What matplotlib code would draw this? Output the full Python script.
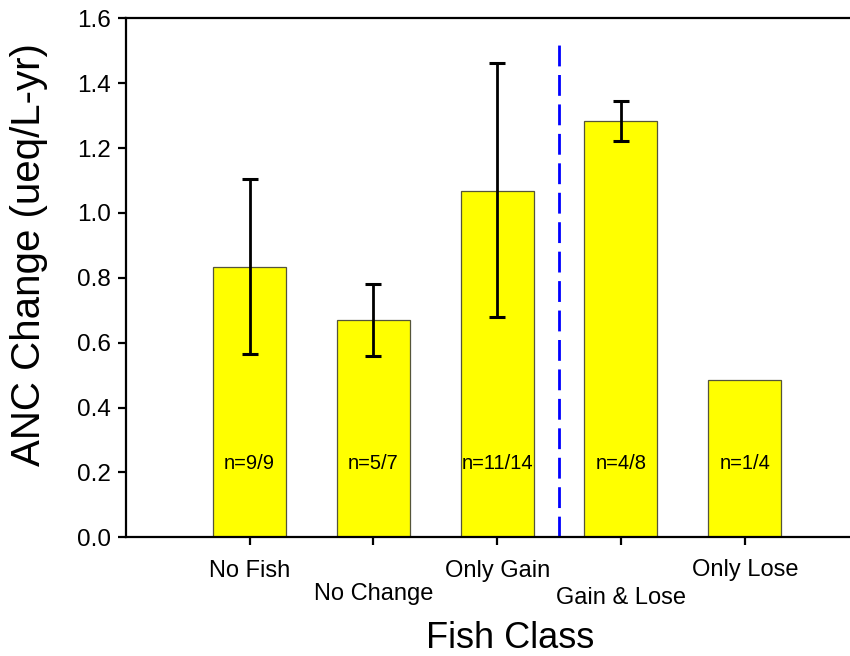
import numpy as np
import matplotlib.pyplot as plt

plt.rcParams['font.family'] = ['Liberation Sans', 'DejaVu Sans']

classes = ['No Fish', 'No Change', 'Only Gain', 'Gain & Lose', 'Only Lose']
anc_change = [0.834, 0.669, 1.069, 1.283, 0.486]
err_low = [0.564, 0.559, 0.680, 1.223, np.nan]
err_high = [1.105, 0.780, 1.462, 1.344, np.nan]
n_labels = ['n=9/9', 'n=5/7', 'n=11/14', 'n=4/8', 'n=1/4']
divider_top = 1.534

x = np.arange(1, len(classes) + 1)
yerr = [np.array(anc_change) - np.array(err_low),
        np.array(err_high) - np.array(anc_change)]

fig = plt.figure(figsize=(8.5, 6.56), dpi=100)
ax = fig.add_axes([0.148, 0.181, 0.852, 0.791])

ax.bar(x, anc_change, width=0.59, color='#ffff00', edgecolor='#55553a', linewidth=0.9, zorder=2)
ax.errorbar(x, anc_change, yerr=yerr, fmt='none', ecolor='black', elinewidth=2,
            capsize=5.5, capthick=2.2, zorder=3)

# divider between single-direction and mixed classes
ax.plot([3.5, 3.5], [0, divider_top], color='#0000ff', linewidth=2,
        dashes=(7.5, 3.1), zorder=1)

for xi, lab in zip(x, n_labels):
    ax.text(xi, 0.228, lab, ha='center', va='center', fontsize=14.5, zorder=4)

ax.set_xlim(0, 5.85)
ax.set_ylim(0, 1.6)
ax.set_yticks(np.arange(0, 1.61, 0.2))
ax.set_yticklabels([f'{v:.1f}' for v in np.arange(0, 1.61, 0.2)], fontsize=17.5)
ax.set_xticks(x)
ax.set_xticklabels([])

# staggered category labels
offsets = [-0.044, -0.088, -0.044, -0.096, -0.041]
for xi, lab, off in zip(x, classes, offsets):
    ax.text(xi, off, lab, transform=ax.get_xaxis_transform(), ha='center', va='top',
            fontsize=17)

ax.spines['right'].set_visible(False)
for s in ['left', 'top', 'bottom']:
    ax.spines[s].set_linewidth(1.6)
ax.tick_params(axis='both', direction='out', length=6, width=1.6)
ax.tick_params(axis='y', pad=5)

ax.set_ylabel('ANC Change (ueq/L-yr)', fontsize=29)
ax.yaxis.set_label_coords(-0.108, 0.545)
fig.text(0.6, 0.0, 'Fish Class', ha='center', va='bottom', fontsize=26)

fig.savefig('out.png', dpi=100)
